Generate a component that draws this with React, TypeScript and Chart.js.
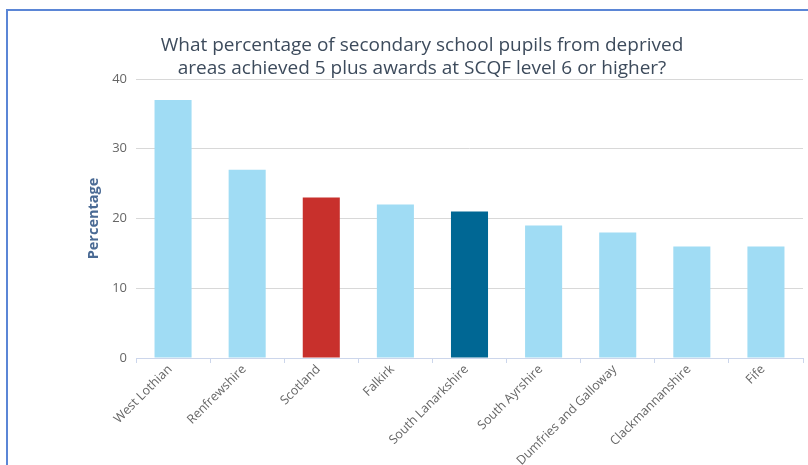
import React, { useEffect, useRef } from "react";
import { Chart, registerables } from "chart.js";

Chart.register(...registerables);

const categories = [
  "West Lothian",
  "Renfrewshire",
  "Scotland",
  "Falkirk",
  "South Lanarkshire",
  "South Ayrshire",
  "Dumfries and Galloway",
  "Clackmannanshire",
  "Fife",
];
const percentages = [37, 27, 23, 22, 21, 19, 18, 16, 16];
const barColors = [
  "#a0dcf4",
  "#a0dcf4",
  "#c8302c",
  "#a0dcf4",
  "#006794",
  "#a0dcf4",
  "#a0dcf4",
  "#a0dcf4",
  "#a0dcf4",
];
const titleLines = [
  "What percentage of secondary school pupils from deprived",
  "areas achieved 5 plus awards at SCQF level 6 or higher?",
];
const yTicks = [0, 10, 20, 30, 40];

const FONT = "'Open Sans', 'Noto Sans', sans-serif";

const titlePlugin = {
  id: "customTitle",
  afterDraw(chart: any) {
    const ctx = chart.ctx;
    ctx.save();
    ctx.font = `19px ${FONT}`;
    ctx.fillStyle = "#3d4b5c";
    ctx.textAlign = "center";
    ctx.textBaseline = "alphabetic";
    titleLines.forEach((line, i) => {
      ctx.fillText(line, 422, 51 + i * 23);
    });
    ctx.restore();
  },
};

export default function App() {
  const ref = useRef<HTMLCanvasElement>(null);
  useEffect(() => {
    if (!ref.current) return;
    const chart = new Chart(ref.current, {
      type: "bar",
      data: {
        labels: categories,
        datasets: [
          {
            data: percentages,
            backgroundColor: barColors,
            borderWidth: 0,
            barPercentage: 0.5,
            categoryPercentage: 1,
          },
        ],
      },
      options: {
        responsive: false,
        animation: false,
        devicePixelRatio: 1,
        layout: { padding: { left: 81, right: 41, top: 79, bottom: 0 } },
        plugins: {
          legend: { display: false },
          tooltip: { enabled: false },
          title: { display: false },
        },
        scales: {
          x: {
            afterFit: (s: any) => {
              s.height = 107;
            },
            grid: {
              display: true,
              drawOnChartArea: false,
              drawTicks: true,
              tickLength: 5,
              color: "#ccd6eb",
              offset: true,
            },
            border: { display: true, color: "#ccd6eb", width: 1 },
            ticks: {
              maxRotation: 45,
              minRotation: 45,
              autoSkip: false,
              color: "#666666",
              font: { family: FONT, size: 12.5 },
              padding: -1,
              labelOffset: -3,
            },
          },
          y: {
            min: 0,
            max: 40,
            afterFit: (s: any) => {
              s.width = 55;
            },
            afterBuildTicks: (s: any) => {
              s.ticks = yTicks.map((v) => ({ value: v }));
            },
            grid: { color: "#d8d8d8", drawTicks: false, lineWidth: 1 },
            border: { display: false },
            ticks: {
              color: "#666666",
              font: { family: FONT, size: 13 },
              padding: 9,
            },
            title: {
              display: true,
              text: "Percentage",
              color: "#4a6a94",
              font: { family: FONT, size: 14.5, weight: "bold" },
              padding: { top: 4, bottom: 4 },
            },
          },
        },
      },
      plugins: [titlePlugin],
    });
    return () => chart.destroy();
  }, []);

  return (
    <div
      style={{
        position: "fixed",
        left: 0,
        top: 0,
        width: 808,
        height: 465,
        overflow: "hidden",
        background: "#ffffff",
      }}
    >
      <div
        style={{
          position: "absolute",
          left: 6,
          top: 9,
          width: 900,
          height: 600,
          border: "2px solid #5b86d6",
          boxSizing: "border-box",
        }}
      />
      <canvas
        ref={ref}
        width={844}
        height={465}
        style={{ position: "absolute", left: 0, top: 0, width: 844, height: 465 }}
      />
    </div>
  );
}
